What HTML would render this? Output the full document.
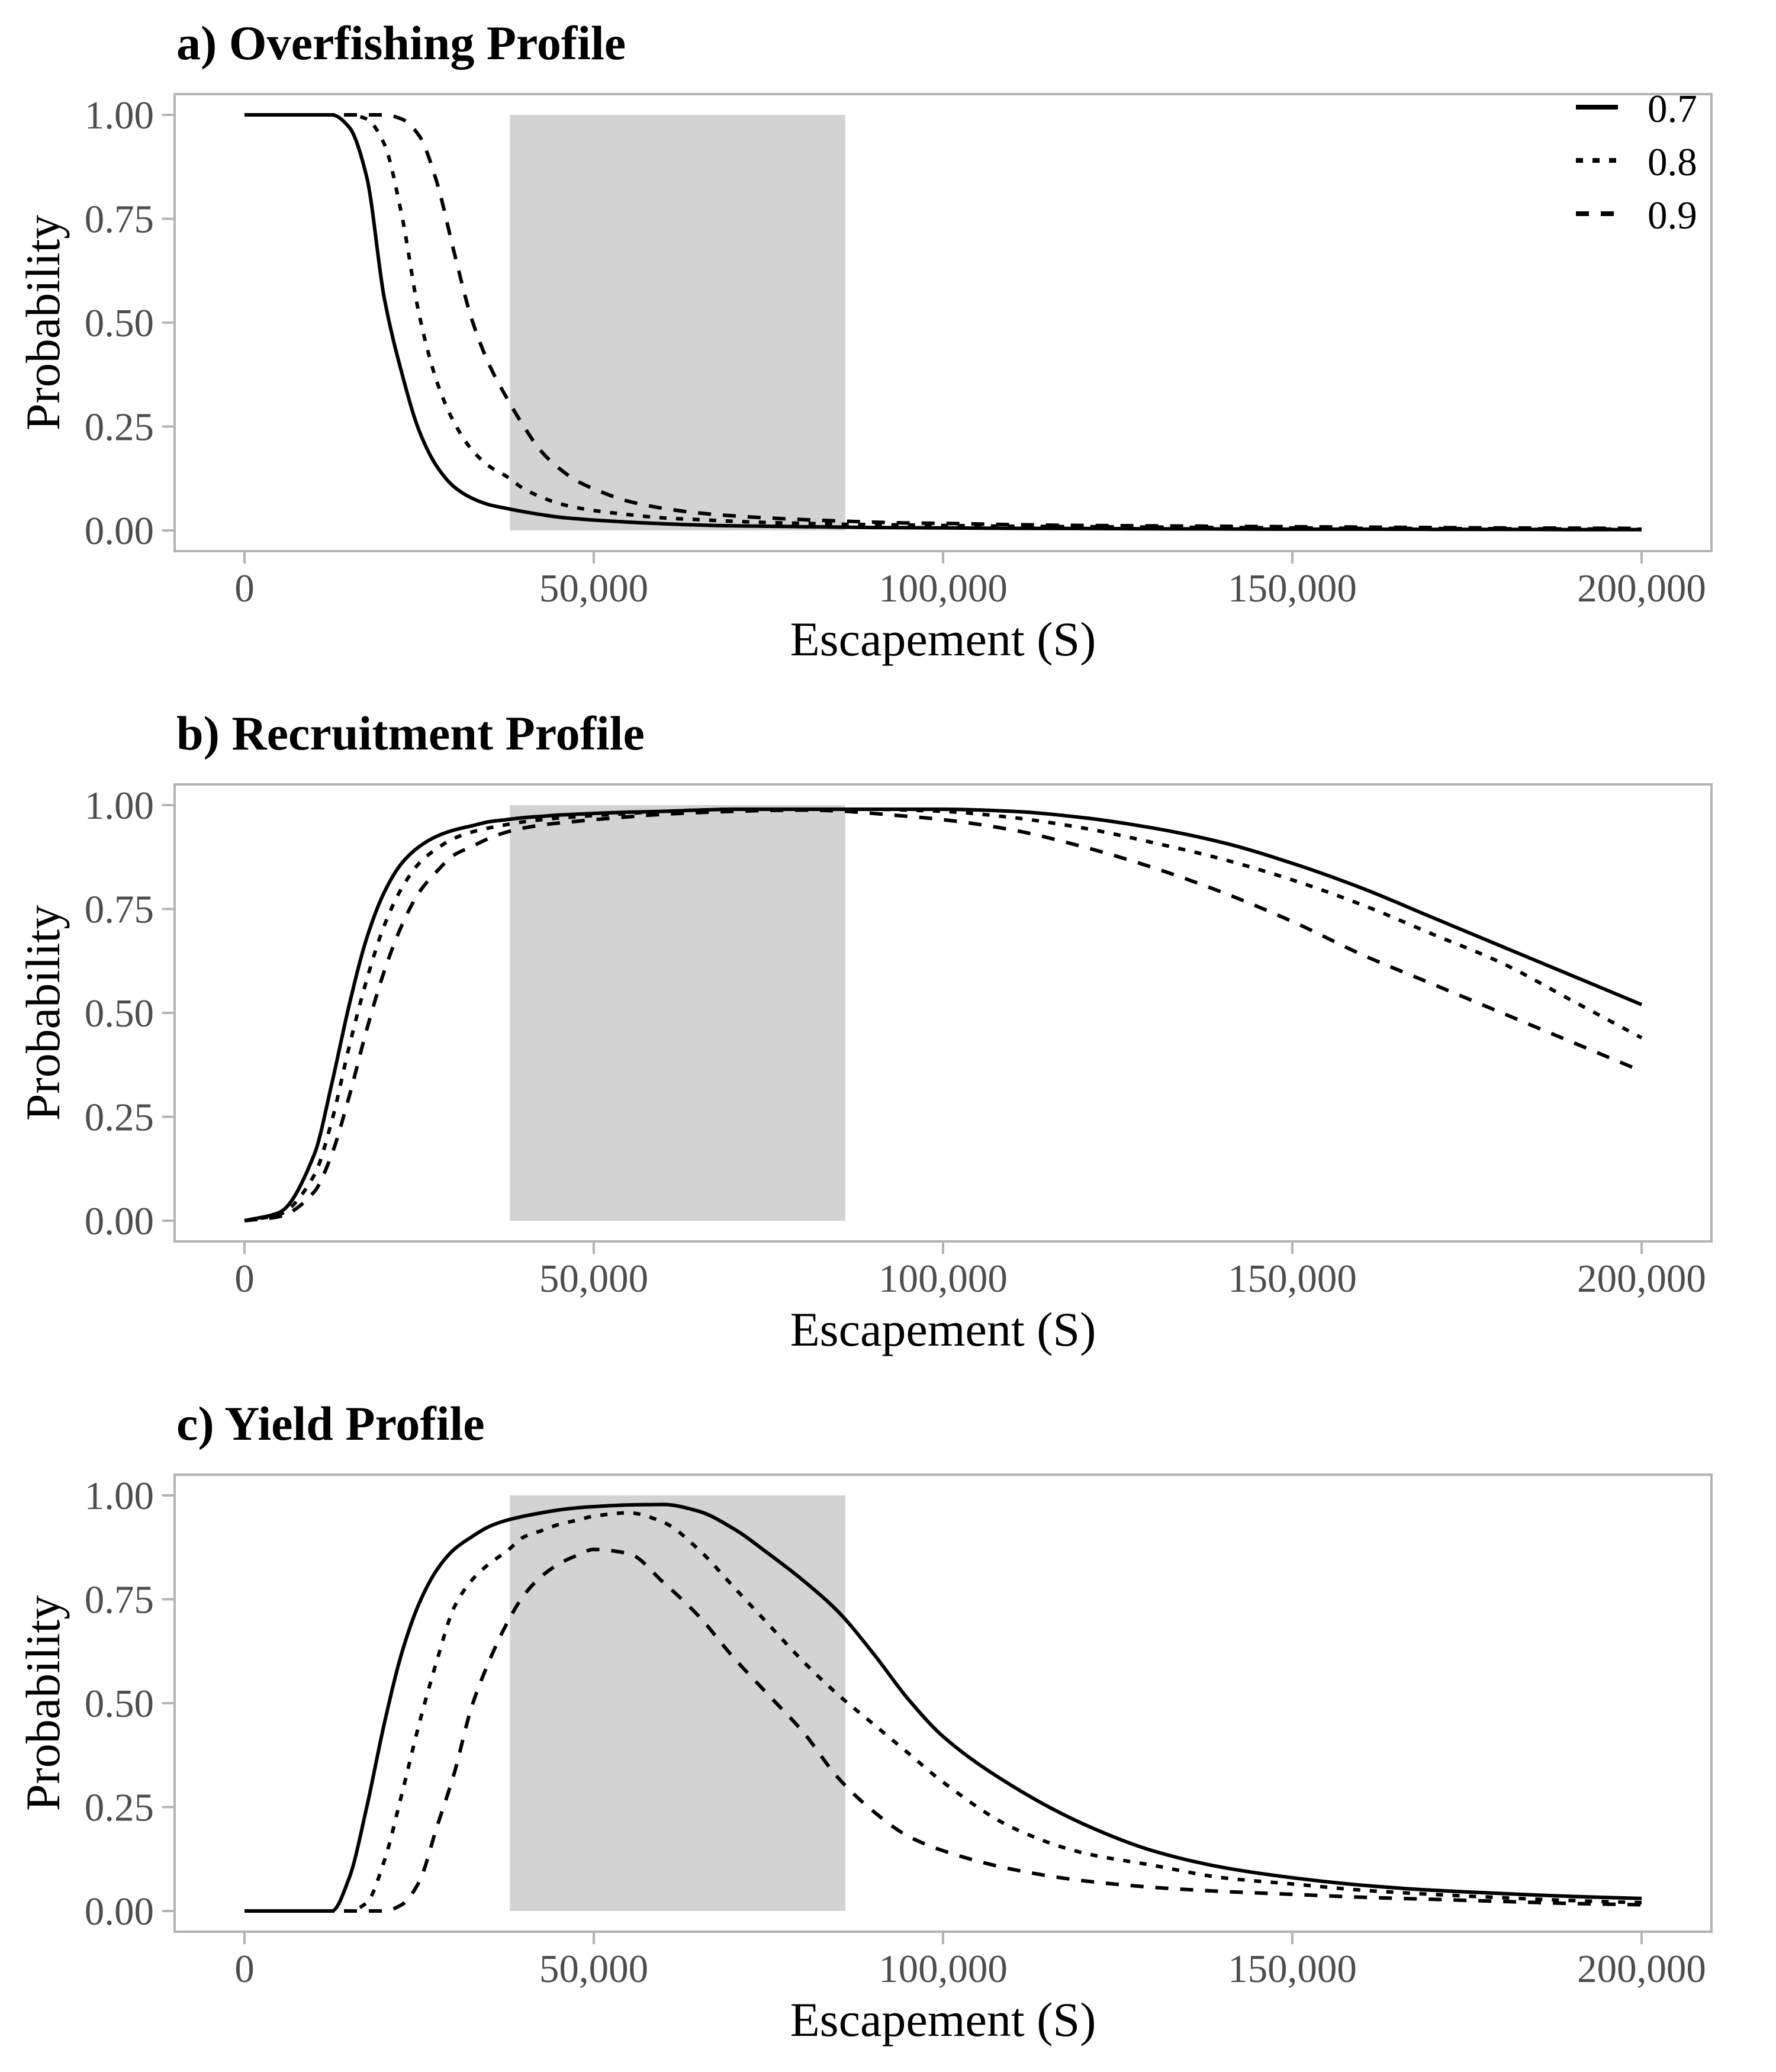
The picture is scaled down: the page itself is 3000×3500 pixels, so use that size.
<!DOCTYPE html>
<html><head><meta charset="utf-8"><style>
html,body{margin:0;padding:0;background:#fff;}
svg{display:block;}
</style></head><body>
<svg id="chart" xmlns="http://www.w3.org/2000/svg" width="3000" height="3500" viewBox="0 0 3000 3500" font-family="'Liberation Serif', serif">
<rect width="3000" height="3500" fill="#fff"/>
</svg>
<script>
const xs = [0,5000,10000,12500,15000,17500,20000,22500,25000,27500,30000,32500,35000,37500,40000,42500,45000,47500,50000,55000,60000,65000,70000,75000,80000,85000,90000,95000,100000,110000,120000,130000,140000,150000,160000,170000,180000,190000,200000];
const seriesNames = ["0.7","0.8","0.9"];
const xTicks = [0,50000,100000,150000,200000];
const xTickLabels = ["0","50,000","100,000","150,000","200,000"];
const yTicks = [0,0.25,0.5,0.75,1];
const yTickLabels = ["0.00","0.25","0.50","0.75","1.00"];
const shadeRange = [38000,86000];
const panelTitles = ["a) Overfishing Profile","b) Recruitment Profile","c) Yield Profile"];

const a07 = [1,1,1,1,0.97,0.85,0.56,0.38,0.24,0.155,0.105,0.078,0.062,0.053,0.045,0.038,0.032,0.028,0.025,0.02,0.016,0.013,0.011,0.01,0.009,0.008,0.007,0.0065,0.006,0.005,0.0045,0.004,0.0035,0.003,0.003,0.0025,0.0025,0.002,0.002];
const a08 = [1,1,1,1,1,0.99,0.93,0.76,0.52,0.36,0.26,0.195,0.155,0.13,0.1,0.08,0.065,0.055,0.048,0.038,0.03,0.026,0.022,0.019,0.017,0.015,0.014,0.013,0.012,0.01,0.009,0.008,0.007,0.006,0.005,0.0045,0.004,0.0035,0.003];
const a09 = [1,1,1,1,1,1,1,0.99,0.95,0.84,0.67,0.51,0.4,0.32,0.25,0.19,0.15,0.12,0.1,0.07,0.053,0.042,0.035,0.03,0.026,0.023,0.02,0.018,0.017,0.014,0.012,0.011,0.01,0.009,0.008,0.007,0.006,0.0055,0.005];

const b07 = [0,0.02,0.16,0.33,0.52,0.68,0.79,0.86,0.9,0.925,0.94,0.95,0.96,0.965,0.97,0.973,0.976,0.978,0.98,0.983,0.985,0.988,0.99,0.99,0.99,0.99,0.99,0.99,0.99,0.985,0.97,0.945,0.91,0.86,0.8,0.73,0.66,0.59,0.52];
const b08 = [0,0.015,0.11,0.24,0.42,0.58,0.71,0.8,0.86,0.895,0.92,0.935,0.945,0.953,0.96,0.965,0.969,0.972,0.975,0.98,0.985,0.988,0.99,0.99,0.99,0.99,0.99,0.988,0.985,0.97,0.945,0.91,0.87,0.82,0.76,0.69,0.62,0.53,0.44];
const b09 = [0,0.01,0.07,0.16,0.3,0.46,0.6,0.71,0.79,0.84,0.88,0.9,0.92,0.935,0.945,0.952,0.957,0.961,0.965,0.972,0.978,0.982,0.985,0.987,0.988,0.986,0.98,0.973,0.965,0.94,0.9,0.85,0.79,0.72,0.64,0.57,0.5,0.43,0.36];

const c07 = [0,0,0,0,0.08,0.25,0.45,0.62,0.74,0.82,0.87,0.9,0.925,0.94,0.95,0.958,0.965,0.97,0.973,0.977,0.978,0.962,0.92,0.86,0.795,0.72,0.62,0.51,0.42,0.3,0.21,0.145,0.105,0.08,0.062,0.05,0.042,0.035,0.03];
const c08 = [0,0,0,0,0,0.02,0.12,0.28,0.45,0.6,0.73,0.795,0.835,0.865,0.9,0.915,0.93,0.94,0.95,0.958,0.935,0.87,0.78,0.69,0.6,0.52,0.45,0.38,0.31,0.2,0.14,0.11,0.08,0.065,0.05,0.04,0.032,0.025,0.02];
const c09 = [0,0,0,0,0,0,0,0.015,0.07,0.2,0.33,0.49,0.6,0.69,0.76,0.805,0.835,0.855,0.87,0.86,0.79,0.71,0.61,0.52,0.43,0.32,0.24,0.18,0.145,0.1,0.073,0.057,0.047,0.04,0.033,0.028,0.023,0.018,0.015];

const panelData = [[a07,a08,a09],[b07,b08,b09],[c07,c08,c09]];
const dashes = [null, "12 16", "22 20"];

const NS = "http://www.w3.org/2000/svg";
const svg = document.getElementById("chart");
function el(tag, attrs, parent, text){
  const e = document.createElementNS(NS, tag);
  for (const k in attrs) e.setAttribute(k, attrs[k]);
  if (text !== undefined) e.textContent = text;
  (parent||svg).appendChild(e);
  return e;
}
function monoPath(px, py){
  const n = px.length, d=[], m=[];
  for (let i=0;i<n-1;i++) d.push((py[i+1]-py[i])/(px[i+1]-px[i]));
  m[0]=d[0]; m[n-1]=d[n-2];
  for (let i=1;i<n-1;i++){
    if (d[i-1]*d[i]<=0) m[i]=0;
    else { const w1=2*(px[i+1]-px[i])+(px[i]-px[i-1]), w2=(px[i+1]-px[i])+2*(px[i]-px[i-1]);
      m[i]=(w1+w2)/(w1/d[i-1]+w2/d[i]); }
  }
  let s = "M"+px[0].toFixed(1)+","+py[0].toFixed(1);
  for (let i=0;i<n-1;i++){
    const h=px[i+1]-px[i];
    s += " C"+(px[i]+h/3).toFixed(1)+","+(py[i]+m[i]*h/3).toFixed(1)+" "+(px[i+1]-h/3).toFixed(1)+","+(py[i+1]-m[i+1]*h/3).toFixed(1)+" "+px[i+1].toFixed(1)+","+py[i+1].toFixed(1);
  }
  return s;
}

const L=295, R=2891, H=772, step=1166, firstTop=159;
for (let p=0;p<3;p++){
  const T = firstTop + p*step, B = T+H;
  const g = el("g", {});
  
  
  const xS = v => 413 + (v/200000)*2360;
  const yS = v => (B-35) - v*702;

  const title = el("text",{x:298,y:T-59,"font-size":82,"font-weight":"bold",fill:"#000"},g,panelTitles[p]);
  
  

  const sh = el("rect",{x:xS(shadeRange[0]),y:yS(1),width:xS(shadeRange[1])-xS(shadeRange[0]),height:yS(0)-yS(1),fill:"#d3d3d3"},g);
  
  

  panelData[p].forEach((ys, si)=>{
    const path = el("path",{d:monoPath(xs.map(xS), ys.map(yS)),fill:"none",stroke:"#000","stroke-width":6,"stroke-linejoin":"round"},g);
    if (dashes[si]) path.setAttribute("stroke-dasharray", dashes[si]);
    
    
  });

  const frame = el("rect",{x:L,y:T,width:R-L,height:H,fill:"none",stroke:"#b3b3b3","stroke-width":4},g);
  
  

  yTicks.forEach((v,i)=>{
    const tk = el("line",{x1:L-21,x2:L,y1:yS(v),y2:yS(v),stroke:"#b3b3b3","stroke-width":4},g);
    
    
    const tl = el("text",{x:260,y:yS(v)+23,"font-size":67,"text-anchor":"end",fill:"#4d4d4d"},g,yTickLabels[i]);
    
    
  });
  xTicks.forEach((v,i)=>{
    const tk = el("line",{x1:xS(v),x2:xS(v),y1:B,y2:B+21,stroke:"#b3b3b3","stroke-width":4},g);
    
    
    const tl = el("text",{x:xS(v),y:B+85,"font-size":67,"text-anchor":"middle",fill:"#4d4d4d"},g,xTickLabels[i]);
    
    
  });
  const xt = el("text",{x:(L+R)/2,y:B+176,"font-size":82,"text-anchor":"middle",fill:"#000"},g,"Escapement (S)");
  
  
  const cy = (T+B)/2;
  const yt = el("text",{x:0,y:0,"font-size":82,"text-anchor":"middle",fill:"#000",transform:"translate(100,"+cy+") rotate(-90)"},g,"Probability");
  
  

  if (p===0){
    const lg = el("g",{},g);
    
    
    seriesNames.forEach((nm,si)=>{
      const ly = 181 + si*90;
      const ln = el("line",{x1:2662,x2:2733,y1:ly,y2:ly,stroke:"#000","stroke-width":8},lg);
      if (dashes[si]) ln.setAttribute("stroke-dasharray", dashes[si]);
      
      
      const lt = el("text",{x:2783,y:ly+25,"font-size":67,fill:"#000"},lg,nm);
      
      
    });
  }
}
</script>
</body></html>
